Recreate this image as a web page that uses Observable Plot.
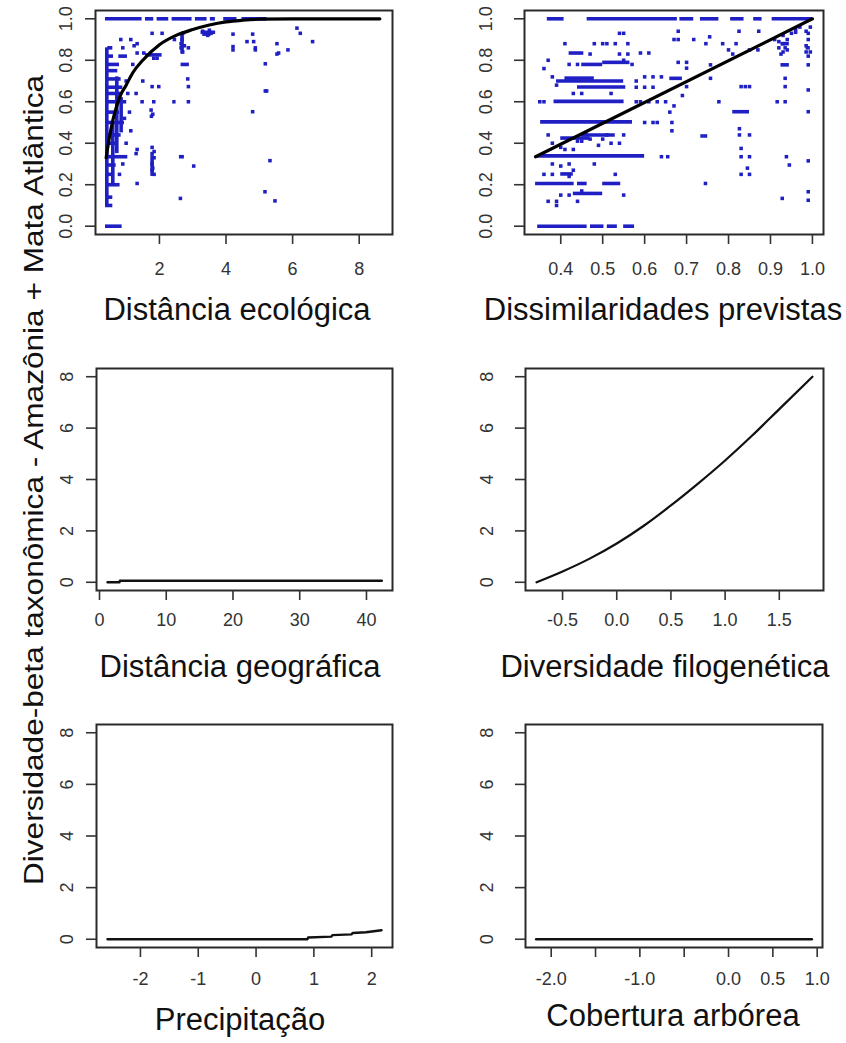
<!DOCTYPE html>
<html>
<head>
<meta charset="utf-8">
<script src="https://cdn.jsdelivr.net/npm/d3@7"></script>
<script src="https://cdn.jsdelivr.net/npm/@observablehq/plot@0.6"></script>
<style>
  body { margin: 0; background: #fff; }
  #fig { position: relative; width: 846px; height: 1043px; background: #fff; overflow: hidden;
         font-family: "Liberation Sans", Arial, sans-serif; }
  #fig svg { position: absolute; }
</style>
</head>
<body>
<div id="fig"></div>
<script>
// ---------------- DATA ----------------
const yTitle = "Diversidade-beta taxonômica - Amazônia + Mata Atlântica";
const xTitles = ["Distância ecológica", "Dissimilaridades previstas", "Distância geográfica",
                 "Diversidade filogenética", "Precipitação", "Cobertura arbórea"];

// Panel 1: Distância ecológica — observed (blue) and fitted curve (black)
const tlCurve = [[0.4,0.33],[0.5,0.43],[0.6,0.51],[0.7,0.57],[0.8,0.62],[1.0,0.68],[1.2,0.74],[1.5,0.80],
  [2.0,0.875],[2.5,0.92],[3.0,0.948],[3.5,0.97],[4.0,0.985],[4.5,0.993],[5.0,0.998],[6.0,1.0],[8.62,1.0]];
const tlRuns = [ // [y, x1, x2]
  [1.0,0.38,1.48],[1.0,1.58,1.83],[1.0,1.93,2.28],[1.0,2.38,2.98],[1.0,3.08,3.43],[1.0,3.53,3.68],
  [1.0,3.93,4.33],[1.0,4.48,5.23],[0.0,0.38,0.88],[0.1,0.38,0.6],[0.14,0.4,0.6],[0.2,0.4,0.72],
  [0.25,0.4,0.6],[0.295,0.45,0.7],[0.335,0.38,1.05],[0.4,0.42,0.75],[0.44,0.42,0.85],[0.5,0.42,0.95],
  [0.55,0.42,0.8],[0.6,0.4,0.9],[0.64,0.42,0.85],[0.67,0.4,0.9],[0.71,0.45,0.85],[0.75,0.42,0.75],
  [0.78,0.45,0.8],[0.82,0.42,0.62],[0.86,0.45,0.6],[0.82,0.78,1.04],[0.335,2.6,2.75],[0.78,2.65,2.9],
  [0.6,2.4,2.5],[0.826,1.58,2.08],[0.935,3.25,3.6],[0.926,3.3,3.55]];
const tlVRuns = [ // [x, y1, y2]
  [0.42,0.1,0.86],[0.6,0.2,0.5],[0.72,0.35,0.72],[2.68,0.83,0.93],[1.78,0.24,0.34],[0.85,0.45,0.62]];
const tlPts = [
  [1.33,0.206],[2.63,0.134],[3.03,0.29],[1.78,0.30],[1.78,0.27],[1.84,0.33],[1.84,0.25],[1.8,0.28],
  [1.78,0.38],[1.78,0.35],[1.84,0.36],[1.33,0.37],[1.48,0.6],[1.83,0.6],[1.75,0.56],[1.8,0.54],[1.76,0.53],
  [1.78,0.673],[1.98,0.673],[2.87,0.673],[2.87,0.6],[2.85,0.71],[2.65,0.88],[2.65,0.86],[2.7,0.84],
  [2.68,0.9],[2.75,0.87],[2.7,0.93],[2.87,0.86],[2.45,0.9],[1.78,0.93],[2.08,0.93],[0.84,0.9],[1.14,0.9],
  [1.24,0.87],[1.33,0.88],[1.33,0.835],[1.53,0.835],[1.83,0.81],[1.93,0.81],[1.2,0.78],[1.5,0.7],
  [1.3,0.64],[1.14,0.46],[1.3,0.35],[0.9,0.86],[3.3,0.94],[3.4,0.93],[3.5,0.945],[3.55,0.93],[3.62,0.935],
  [3.45,0.92],[4.21,0.926],[4.21,0.866],[4.21,0.85],[4.63,0.89],[4.80,0.926],[4.83,0.89],[4.88,0.86],
  [4.88,0.85],[5.18,0.783],[5.18,0.652],[5.22,0.652],[4.80,0.552],[5.32,0.316],[5.17,0.166],[5.47,0.122],
  [5.53,0.88],[5.53,0.83],[5.58,0.835],[5.86,0.85],[6.13,0.955],[6.23,0.93],[6.6,0.89],
  [0.95,0.52],[1.0,0.7],[0.95,0.6],[1.05,0.64],[1.1,0.55],[1.0,0.4],[0.9,0.3],[0.8,0.25],[0.75,0.2]];

// Panel 2: Dissimilaridades previstas
const trLine = [[0.34,0.335],[1.0,1.0]];
const trRuns = [
  [1.0,0.368,0.408],[1.0,0.463,0.678],[1.0,0.684,0.717],[1.0,0.733,0.777],[1.0,0.805,0.837],[1.0,0.86,0.88],
  [1.0,0.904,1.0],[0.0,0.345,0.463],[0.0,0.471,0.503],[0.0,0.511,0.535],[0.0,0.55,0.576],
  [0.206,0.34,0.432],[0.206,0.44,0.463],[0.206,0.5,0.543],[0.339,0.345,0.6],[0.503,0.352,0.571],
  [0.602,0.384,0.551],[0.671,0.44,0.555],[0.70,0.39,0.55],[0.714,0.41,0.48],[0.425,0.4,0.47],
  [0.44,0.45,0.53],[0.79,0.5,0.565],[0.78,0.45,0.5],[0.835,0.42,0.455],[0.158,0.43,0.5],[0.252,0.4,0.43],
  [0.713,0.66,0.69],[0.552,0.81,0.85],[0.778,0.925,0.945],[0.88,0.925,0.945],[0.86,0.985,0.995]];
const trPts = [
  [0.36,0.76],[0.37,0.8],[0.35,0.6],[0.36,0.6],[0.37,0.44],[0.38,0.4],[0.36,0.25],[0.38,0.25],[0.38,0.3],
  [0.37,0.12],[0.39,0.1],[0.39,0.12],[0.4,0.29],[0.4,0.38],[0.41,0.37],[0.42,0.3],[0.42,0.24],[0.43,0.27],
  [0.43,0.37],[0.44,0.41],[0.45,0.41],[0.46,0.45],[0.47,0.42],[0.48,0.3],[0.49,0.39],[0.5,0.42],
  [0.51,0.44],[0.52,0.4],[0.53,0.25],[0.54,0.4],[0.55,0.44],[0.55,0.15],[0.45,0.17],[0.44,0.12],
  [0.42,0.15],[0.4,0.15],[0.41,0.88],[0.38,0.72],[0.39,0.68],[0.42,0.78],[0.44,0.78],[0.47,0.83],
  [0.48,0.88],[0.5,0.88],[0.51,0.88],[0.53,0.88],[0.54,0.93],[0.55,0.93],[0.56,0.88],[0.54,0.83],
  [0.56,0.83],[0.59,0.835],[0.61,0.835],[0.43,0.64],[0.45,0.64],[0.52,0.64],[0.58,0.67],[0.6,0.67],
  [0.62,0.67],[0.58,0.6],[0.59,0.6],[0.61,0.6],[0.63,0.6],[0.65,0.6],[0.67,0.58],[0.66,0.55],[0.665,0.5],
  [0.665,0.46],[0.6,0.5],[0.62,0.5],[0.63,0.5],[0.58,0.7],[0.6,0.72],[0.62,0.72],[0.64,0.72],[0.69,0.63],
  [0.70,0.673],[0.64,0.335],[0.655,0.335],[0.55,0.8],[0.57,0.78],[0.68,0.94],[0.67,0.9],[0.68,0.9],
  [0.68,0.79],[0.70,0.79],[0.70,0.762],[0.717,0.9],[0.746,0.88],[0.755,0.913],[0.737,0.435],[0.745,0.435],
  [0.745,0.206],[0.757,0.713],[0.757,0.778],[0.777,0.6],[0.786,0.88],[0.80,0.85],[0.81,0.83],[0.818,0.88],
  [0.825,0.94],[0.85,0.85],[0.87,0.85],[0.872,0.94],[0.83,0.673],[0.84,0.673],[0.85,0.673],[0.826,0.47],
  [0.826,0.44],[0.85,0.44],[0.83,0.375],[0.83,0.335],[0.85,0.335],[0.845,0.28],[0.83,0.25],[0.85,0.25],
  [0.916,0.6],[0.935,0.6],[0.935,0.673],[0.935,0.713],[0.938,0.335],[0.945,0.295],[0.928,0.134],
  [0.99,0.778],[0.99,0.657],[0.99,0.552],[0.99,0.315],[0.99,0.166],[0.99,0.125],[0.995,0.96],[0.99,0.93],
  [0.97,0.96],[0.96,0.95],[0.96,0.935],[0.94,0.9],[0.93,0.88],[0.92,0.86],[0.94,0.85],[0.93,0.84],
  [0.92,0.89],[0.93,0.92],[0.91,0.9],[0.935,0.86],[0.925,0.83],[0.95,0.93],[0.985,0.94],[0.985,0.84],
  [0.985,0.87],[0.99,0.9],[0.995,0.84],[0.99,0.82]];

// Panels 3-6: partial effect curves
const mlLine = [[1.2,0],[3.0,0],[3.05,0.06],[42.3,0.06]];
const mrCurve = [[-0.74,0],[-0.5,0.42],[-0.25,0.92],[0,1.51],[0.25,2.2],[0.5,2.99],[0.75,3.84],
  [1.0,4.74],[1.25,5.71],[1.5,6.74],[1.806,8.0]];
const blLine = [[-2.57,0],[0.89,0],[0.9,0.07],[1.3,0.1],[1.32,0.16],[1.65,0.19],[1.67,0.24],[1.9,0.27],[2.17,0.35]];
const brLine = [[-2.17,0],[0.94,0]];

// Tick values
const tlXTicks = [2,4,6,8];
const trXTicks = [0.4,0.5,0.6,0.7,0.8,0.9,1.0];
const mlXTicks = [0,10,20,30,40];
const mrXTicks = [-0.5,0,0.5,1,1.5];
const blXTicks = [-2,-1,0,1,2];
const brXTicks = [-2,-1.5,-1,-0.5,0,0.5,1];
const brXLabels = ["-2.0","","-1.0","","0.0","0.5","1.0"];
const yTicksTop = [0,0.2,0.4,0.6,0.8,1.0];
const yTicksLow = [0,2,4,6,8];

// ---------------- DRAW ----------------
const BLUE = "#1f1fc4";
const FONT = "'Liberation Sans', Arial, sans-serif";
const fig = document.getElementById("fig");

function panel({box, xDomain, yDomain, xTicks, yTicks, xFmt, yFmt, marks, xPad, yPad}) {
  const mL = 70, mR = 6, mT = 6, mB = 60;
  const w = box[1] - box[0], h = box[3] - box[2];
  const p = Plot.plot({
    width: w + mL + mR, height: h + mT + mB,
    marginLeft: mL, marginRight: mR, marginTop: mT, marginBottom: mB,
    style: {fontFamily: FONT, fontSize: "18px", color: "#333", background: "transparent", overflow: "visible"},
    x: {domain: xDomain, label: null},
    y: {domain: yDomain, label: null},
    marks: [
      ...marks,
      Plot.frame({stroke: "#2a2a2a", strokeWidth: 2}),
      Plot.axisX(xTicks, {tickSize: 10, tickPadding: xPad, tickFormat: xFmt, strokeWidth: 1.6,
        fontSize: 18, fill: "#333", label: null}),
      Plot.axisY(yTicks, {tickSize: 10, tickRotate: -90, tickPadding: yPad, tickFormat: yFmt, strokeWidth: 1.6,
        fontSize: 18, fill: "#333", label: null})
    ]
  });
  p.style.left = (box[0] - mL) + "px";
  p.style.top = (box[2] - mT) + "px";
  fig.appendChild(p);
}

const f1 = d => d.toFixed(1);
const f0 = d => String(d);
const runMarks = (runs, vruns, pts) => [
  Plot.ruleY(runs, {y: d => d[0], x1: d => d[1], x2: d => d[2], stroke: BLUE, strokeWidth: 3.6}),
  ...(vruns ? [Plot.ruleX(vruns, {x: d => d[0], y1: d => d[1], y2: d => d[2], stroke: BLUE, strokeWidth: 3.6})] : []),
  Plot.dot(pts, {x: d => d[0], y: d => d[1], symbol: "square", r: 2, fill: BLUE, stroke: null})
];

// Panel 1
panel({box: [95, 392, 10, 234], xDomain: [0.08, 9.0], yDomain: [-0.04, 1.04],
  xTicks: tlXTicks, yTicks: yTicksTop, xFmt: f0, yFmt: f1, xPad: 18, yPad: 14,
  marks: [...runMarks(tlRuns, tlVRuns, tlPts),
    Plot.line(tlCurve, {x: d => d[0], y: d => d[1], stroke: "#000", strokeWidth: 3.2, curve: "monotone-x"})]});
// Panel 2
panel({box: [524, 823, 10, 234], xDomain: [0.3136, 1.0264], yDomain: [-0.04, 1.04],
  xTicks: trXTicks, yTicks: yTicksTop, xFmt: f1, yFmt: f1, xPad: 18, yPad: 23,
  marks: [...runMarks(trRuns, null, trPts),
    Plot.line(trLine, {x: d => d[0], y: d => d[1], stroke: "#000", strokeWidth: 3.2})]});
// Panel 3
panel({box: [96, 392, 368, 590], xDomain: [-0.45, 43.9], yDomain: [-0.32, 8.32],
  xTicks: mlXTicks, yTicks: yTicksLow, xFmt: f0, yFmt: f0, xPad: 13, yPad: 14,
  marks: [Plot.line(mlLine, {x: d => d[0], y: d => d[1], stroke: "#111", strokeWidth: 2.4})]});
// Panel 4
panel({box: [525, 823, 368, 590], xDomain: [-0.842, 1.908], yDomain: [-0.32, 8.32],
  xTicks: mrXTicks, yTicks: yTicksLow, xFmt: f1, yFmt: f0, xPad: 13, yPad: 23,
  marks: [Plot.line(mrCurve, {x: d => d[0], y: d => d[1], stroke: "#111", strokeWidth: 2.2, curve: "monotone-x"})]});
// Panel 5
panel({box: [96, 392, 724, 947], xDomain: [-2.76, 2.36], yDomain: [-0.32, 8.32],
  xTicks: blXTicks, yTicks: yTicksLow, xFmt: f0, yFmt: f0, xPad: 15, yPad: 14,
  marks: [Plot.line(blLine, {x: d => d[0], y: d => d[1], stroke: "#111", strokeWidth: 2.4})]});
// Panel 6
panel({box: [525, 822, 724, 947], xDomain: [-2.29, 1.06], yDomain: [-0.32, 8.32],
  xTicks: brXTicks, yTicks: yTicksLow, xFmt: (d, i) => brXLabels[i], yFmt: f0, xPad: 15, yPad: 23,
  marks: [Plot.line(brLine, {x: d => d[0], y: d => d[1], stroke: "#111", strokeWidth: 2.4})]});

// Titles overlay
const svg = d3.select(fig).append("svg").attr("width", 846).attr("height", 1043)
  .style("left", "0px").style("top", "0px").style("pointer-events", "none");
const titlePos = [[237,320],[663,320],[240,677],[665,677],[240,1030],[673,1026]];
xTitles.forEach((t, i) => {
  svg.append("text").attr("x", titlePos[i][0]).attr("y", titlePos[i][1])
    .attr("text-anchor", "middle").attr("font-family", FONT).attr("font-size", 31)
    .attr("fill", "#111").text(t);
});
svg.append("text").attr("transform", "translate(43,480) rotate(-90)")
  .attr("text-anchor", "middle").attr("font-family", FONT).attr("font-size", 27)
  .attr("textLength", 810).attr("lengthAdjust", "spacingAndGlyphs")
  .attr("fill", "#111").text(yTitle);
</script>
</body>
</html>
